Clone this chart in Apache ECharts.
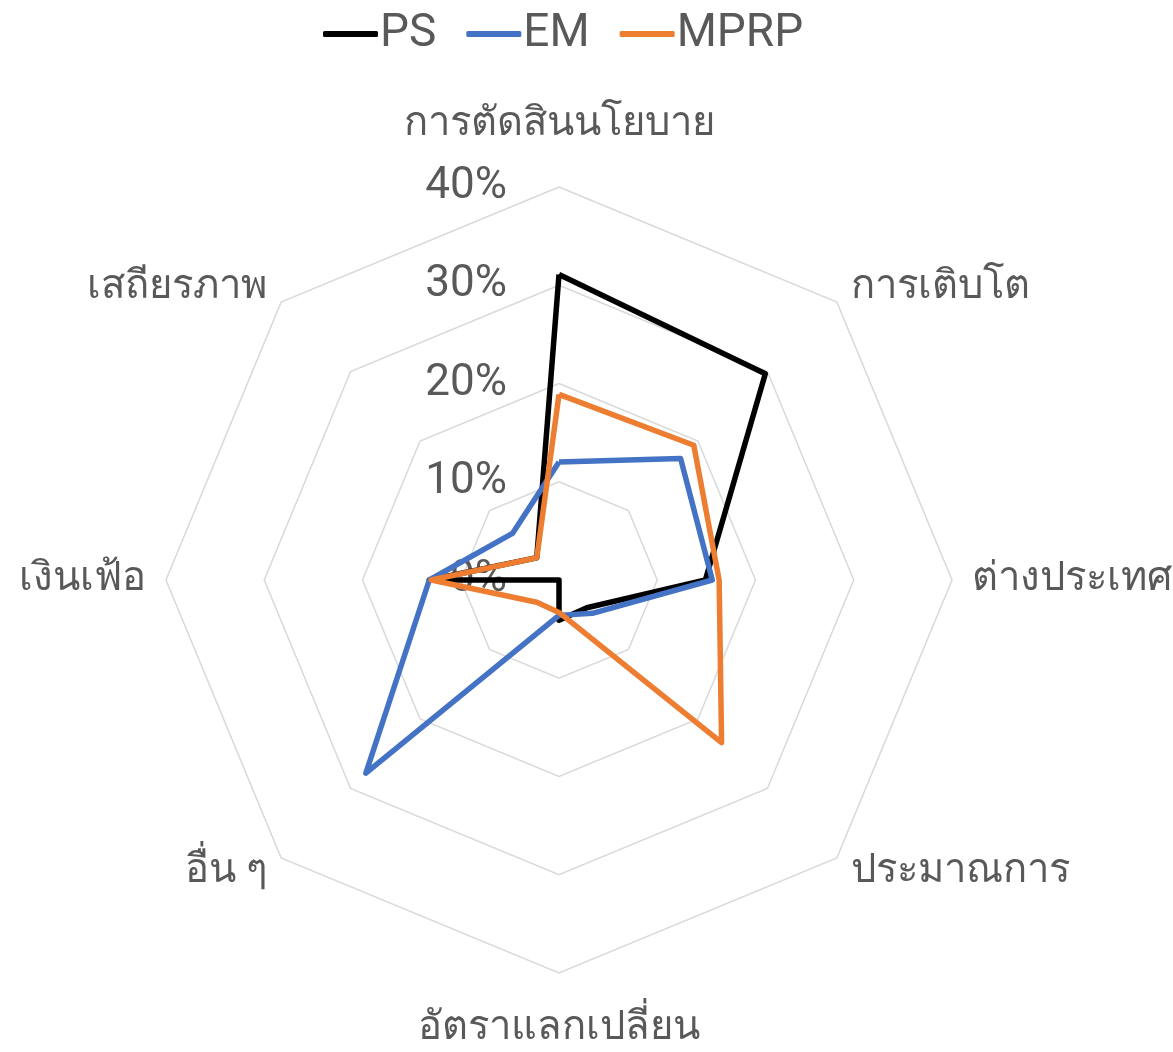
<!DOCTYPE html>
<html>
<head>
<meta charset="utf-8">
<script src="https://cdn.jsdelivr.net/npm/echarts@6/dist/echarts.min.js"></script>
<style>
  html, body { margin: 0; padding: 0; background: #fff; }
  #chart { width: 1173px; height: 1052px; }
</style>
</head>
<body>
<div id="chart"></div>
<script>
// categories clockwise from the top
var categories = ['การตัดสินนโยบาย', 'การเติบโต', 'ต่างประเทศ', 'ประมาณการ', 'อัตราแลกเปลี่ยน', 'อื่น ๆ', 'เงินเฟ้อ', 'เสถียรภาพ'];
var psValues = [31.1, 29.7, 14.9, 4.0, 4.1, 0, 13.2, 3.2];
var emValues = [12.0, 17.5, 15.6, 4.8, 3.6, 27.8, 13.2, 6.7];
var mprpValues = [18.9, 19.4, 16.3, 23.4, 3.3, 3.2, 13.0, 3.2];
var seriesNames = ['PS', 'EM', 'MPRP'];
var seriesColors = ['#000000', '#4472C4', '#ED7D31'];

var fontFam = 'Roboto, "Noto Sans", sans-serif';

// echarts lays indicators out counter-clockwise, so flip the order
var order = [0];
for (var i = categories.length - 1; i > 0; i--) order.push(i);
function reorder(arr) {
    return order.map(function (k) { return arr[k]; });
}

var indicator = reorder(categories).map(function (name, idx) {
    var ind = {name: name, max: 40, min: 0};
    if (idx == 0) {
        ind.axisLabel = {show: true};
        ind.nameGap = 42;
    }
    if (name == 'อัตราแลกเปลี่ยน') ind.nameGap = 36;
    return ind;
});

var allValues = [psValues, emValues, mprpValues];
var seriesList = allValues.map(function (vals, i) {
    return {
        type: 'radar',
        name: seriesNames[i],
        symbol: 'none',
        color: seriesColors[i],
        lineStyle: {color: seriesColors[i], width: 5.5},
        data: [{name: seriesNames[i], value: reorder(vals)}]
    };
});

var myChart = echarts.init(document.getElementById('chart'));
var option = {
    backgroundColor: '#fff',
    animation: false,
    color: seriesColors,
    legend: {
        top: 6,
        left: 318,
        icon: 'roundRect',
        itemWidth: 55,
        itemHeight: 6,
        itemGap: 30,
        textStyle: {color: '#595959', fontSize: 46, fontFamily: fontFam, padding: [0, 0, 0, -3]},
        data: seriesNames
    },
    radar: {
        center: [559, 580],
        radius: 393,
        shape: 'polygon',
        splitNumber: 4,
        nameGap: 20,
        axisName: {color: '#595959', fontSize: 40, fontFamily: fontFam},
        axisLine: {show: false},
        axisTick: {show: false},
        splitArea: {show: false},
        splitLine: {lineStyle: {color: '#d9d9d9', width: 1.5}},
        axisLabel: {
            show: false,
            color: '#595959',
            fontSize: 44,
            fontFamily: fontFam,
            margin: 52,
            formatter: function (v) { return v + '%'; }
        },
        indicator: indicator
    },
    series: seriesList
};
myChart.setOption(option);
</script>
</body>
</html>
